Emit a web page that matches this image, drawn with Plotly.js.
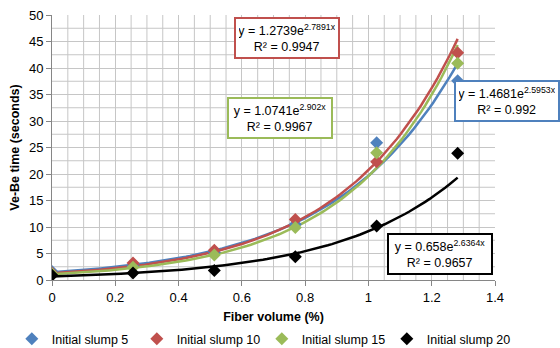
<!DOCTYPE html>
<html>
<head>
<meta charset="utf-8">
<script src="https://cdn.plot.ly/plotly-3.0.1.min.js"></script>
<style>html,body{margin:0;padding:0;background:#fff;}#chart{width:560px;height:348px;}</style>
</head>
<body>
<div id="chart"></div>
<script>
// Data
const fiberVolume = [0, 0.256, 0.513, 0.769, 1.026, 1.282];
const seriesNames = ["Initial slump 5", "Initial slump 10", "Initial slump 15", "Initial slump 20"];
const slump5  = [1.6, 2.6, 5.2, 10.5, 25.9, 37.6];
const slump10 = [1.3, 3.2, 5.6, 11.4, 22.3, 42.9];
const slump15 = [1.2, 2.4, 4.7, 9.9, 24.0, 40.9];
const slump20 = [0.9, 1.3, 1.8, 4.4, 10.2, 23.9];
// Exponential trendlines y = a*e^(b*x) as printed on the chart
const fitA = [1.4681, 1.2739, 1.0741, 0.658];
const fitB = [2.5953, 2.7891, 2.902, 2.6364];
const fitR2 = ["0.992", "0.9947", "0.9967", "0.9657"];
const fitAText = ["1.4681", "1.2739", "1.0741", "0.658"];
const fitBText = ["2.5953", "2.7891", "2.902", "2.6364"];

const colors = ["#4F81BD", "#C0504D", "#9BBB59", "#000000"];
const allY = [slump5, slump10, slump15, slump20];
const grid = "#c6c6c6";
const xRange = [0, 1.4], yRange = [0, 50];

const traces = [];
// minor grid lines (between the major gridlines) drawn as a background line trace
const gx = [], gy = [];
const xMinor = 0.05, yMinor = 2.5;
for (let i = 1; i < 28; i++) {
  if (i % 4 === 0) continue;
  gx.push(i * xMinor, i * xMinor, null); gy.push(yRange[0], yRange[1], null);
}
for (let i = 1; i < 20; i++) {
  if (i % 2 === 0) continue;
  gx.push(xRange[0], xRange[1], null); gy.push(i * yMinor, i * yMinor, null);
}
traces.push({x: gx, y: gy, type: "scatter", mode: "lines", showlegend: false, hoverinfo: "skip",
  connectgaps: false, line: {color: grid, width: 1}});

const xmax = fiberVolume[fiberVolume.length - 1];
for (let s = 0; s < 4; s++) {
  const xs = [], ys = [];
  for (let i = 0; i <= 100; i++) {
    const x = xmax * i / 100;
    xs.push(x);
    ys.push(fitA[s] * Math.exp(fitB[s] * x));
  }
  traces.push({x: xs, y: ys, type: "scatter", mode: "lines", showlegend: false,
    hoverinfo: "skip", line: {color: colors[s], width: 2.5}});
}
for (let s = 0; s < 4; s++) {
  traces.push({x: fiberVolume, y: allY[s], type: "scatter", mode: "markers", name: seriesNames[s],
    marker: {symbol: "diamond", size: 10, color: colors[s]}});
}

const font = "Liberation Sans, Arial, sans-serif";
function ann(s, x, y) {
  return {xref: "paper", yref: "paper", x: x, y: y, xanchor: "center", yanchor: "middle",
    showarrow: false, align: "center",
    text: "y = " + fitAText[s] + "e<sup>" + fitBText[s] + "x</sup><br>R² = " + fitR2[s],
    font: {family: font, size: 12.5, color: "#000"},
    bgcolor: "#ffffff", bordercolor: colors[s], borderwidth: 2, borderpad: 3,
    width: 96, height: 32};
}

const layout = {
  width: 560, height: 348,
  margin: {l: 52, r: 65, t: 15, b: 68, autoexpand: false},
  paper_bgcolor: "#fff", plot_bgcolor: "#fff",
  font: {family: font, size: 13, color: "#000"},
  xaxis: {range: xRange, tickmode: "linear", tick0: 0, dtick: 0.2,
    showgrid: true, gridcolor: grid, gridwidth: 1,
    showline: true, linecolor: "#868686", ticks: "outside", ticklen: 5, tickcolor: "#868686",
    zeroline: false, tickfont: {size: 13, color: "#000"},
    title: {text: "<b>Fiber volume (%)</b>", font: {size: 12.5, color: "#000"}, standoff: 8}},
  yaxis: {range: yRange, tickmode: "linear", tick0: 0, dtick: 5,
    showgrid: true, gridcolor: grid, gridwidth: 1,
    showline: true, linecolor: "#868686", ticks: "outside", ticklen: 5, tickcolor: "#868686",
    zeroline: false, tickfont: {size: 13, color: "#000"},
    title: {text: "<b>Ve-Be time (seconds)</b>", font: {size: 12.5, color: "#000"}, standoff: 6}},
  legend: {orientation: "h", x: 1.038, xanchor: "right", y: -0.223, yanchor: "middle",
    font: {size: 12.5, color: "#000"}, itemwidth: 30, tracegroupgap: 0,
    entrywidth: 80, entrywidthmode: "pixels"},
  annotations: [ann(1, 0.530, 0.913), ann(2, 0.515, 0.611), ann(0, 1.028, 0.677), ann(3, 0.876, 0.098)],
  showlegend: true
};

Plotly.newPlot("chart", traces, layout, {displayModeBar: false, staticPlot: true});
</script>
</body>
</html>
